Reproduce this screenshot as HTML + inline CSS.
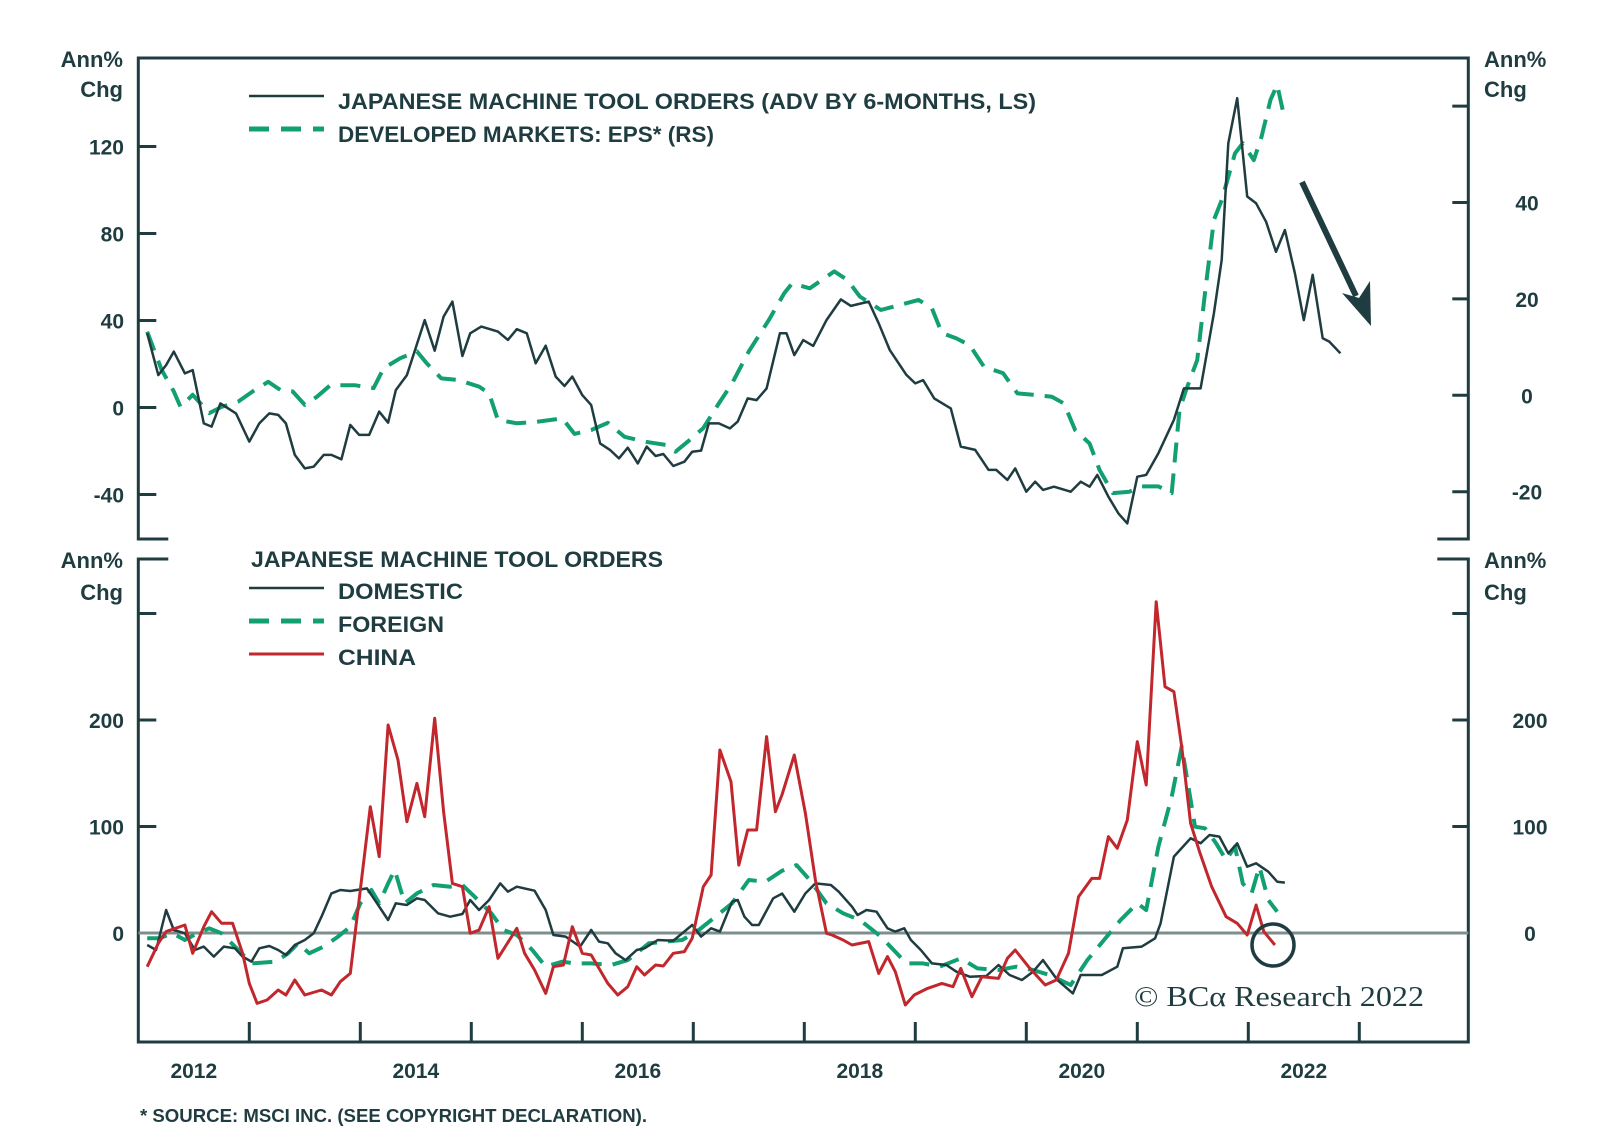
<!DOCTYPE html>
<html><head><meta charset="utf-8">
<style>
html,body{margin:0;padding:0;background:#fff;}
svg{display:block;}
text{font-family:"Liberation Sans",sans-serif;fill:#1f3c40;}
</style></head>
<body>
<svg id="chart" width="1600" height="1146" viewBox="0 0 1600 1146" xmlns="http://www.w3.org/2000/svg">
  <g id="frames"></g>
  <g id="marks"></g>
  <g id="labels"></g>
</svg>
<script>
// ---- DATA ----
const orderDates = [2012.08,2012.18,2012.25,2012.32,2012.42,2012.49,2012.59,2012.66,2012.74,2012.88,2013.00,2013.09,2013.18,2013.26,2013.33,2013.41,2013.50,2013.58,2013.67,2013.74,2013.83,2013.91,2013.99,2014.08,2014.17,2014.25,2014.32,2014.42,2014.58,2014.67,2014.75,2014.83,2014.92,2014.99,2015.09,2015.24,2015.33,2015.41,2015.50,2015.58,2015.67,2015.76,2015.84,2015.91,2016.00,2016.08,2016.16,2016.25,2016.33,2016.41,2016.50,2016.58,2016.66,2016.73,2016.82,2016.92,2016.99,2017.07,2017.14,2017.23,2017.33,2017.40,2017.49,2017.57,2017.66,2017.78,2017.84,2017.91,2017.99,2018.08,2018.20,2018.33,2018.42,2018.58,2018.67,2018.77,2018.92,2019.00,2019.07,2019.17,2019.32,2019.41,2019.54,2019.66,2019.73,2019.83,2019.90,2020.00,2020.08,2020.15,2020.25,2020.40,2020.49,2020.57,2020.64,2020.74,2020.83,2020.91,2021.00,2021.08,2021.19,2021.33,2021.42,2021.57,2021.69,2021.76,2021.82,2021.90,2021.99,2022.07,2022.16,2022.25,2022.33,2022.42,2022.50,2022.58,2022.67,2022.73,2022.83];
const orderValues = [34.1,14.9,19.5,25.7,15.7,17.2,-7.3,-8.8,1.9,-2.7,-15.7,-7.3,-2.7,-3.4,-7.3,-21.8,-28,-27.2,-21.8,-21.8,-23.8,-8,-12.6,-12.6,-1.9,-7,8,14.9,40.2,26.1,41.8,48.7,23.7,34.1,37.2,34.9,31.1,36,34.1,20.3,28.4,14.2,9.9,14.2,5.7,1.1,-16.5,-19.5,-23.4,-18.5,-25.7,-18,-22.3,-21.4,-26.9,-24.9,-20.3,-19.8,-7.3,-7.3,-9.6,-6.5,4.2,3.4,8.8,34.1,34.1,24.1,31,28.3,40.2,49.7,46.7,48.7,38.7,26.4,15,11.1,12.6,4.2,-0.4,-18,-19.5,-28.7,-28.7,-33.3,-28,-38.7,-34.1,-37.9,-36.4,-38.7,-34.1,-36.4,-31,-41,-48.7,-53.3,-31.8,-31,-21,-5.7,8.8,8.8,43.3,67.8,121.5,142.2,97,93.9,85.4,71.6,81.6,61.7,40.2,61,31.8,30.3,24.9];

const epsDates = [2012.08,2012.21,2012.32,2012.38,2012.49,2012.64,2012.75,2012.90,2013.05,2013.17,2013.28,2013.39,2013.50,2013.61,2013.73,2013.95,2014.12,2014.21,2014.36,2014.51,2014.60,2014.73,2014.88,2015.07,2015.16,2015.24,2015.41,2015.59,2015.82,2015.93,2016.08,2016.23,2016.38,2016.56,2016.75,2016.84,2016.95,2017.09,2017.23,2017.35,2017.50,2017.68,2017.82,2017.89,2018.05,2018.27,2018.39,2018.50,2018.69,2018.92,2019.03,2019.15,2019.24,2019.37,2019.49,2019.62,2019.79,2019.92,2020.06,2020.23,2020.34,2020.44,2020.57,2020.66,2020.78,2020.93,2021.04,2021.19,2021.31,2021.38,2021.44,2021.54,2021.61,2021.69,2021.76,2021.88,2021.95,2022.05,2022.12,2022.20,2022.26,2022.33];
const epsValues = [13.2,5.3,0.8,-2.4,0.1,-3.7,-2.4,-1.3,1.1,2.8,1.1,0.8,-2,-0.3,2.1,2.1,1.5,5.6,7.7,9.1,6.6,3.5,3.2,1.8,0.4,-5.1,-5.8,-5.5,-4.8,-8,-7.2,-5.7,-8.6,-9.6,-10.3,-11.7,-9.6,-6.8,-1.7,2.5,9.1,15.6,21.2,23.2,22.2,25.7,23.9,20.5,17.7,19.1,19.8,18,12.9,11.8,10.4,5.9,4.6,0.4,0.1,-0.3,-1.7,-7.2,-10,-15.5,-20.3,-20,-18.9,-18.9,-20.3,-3,1.1,7.3,21.2,36.4,40.5,50.2,52.3,48.8,53.7,61.3,64.4,57.1];

const domDates = [2012.08,2012.16,2012.25,2012.32,2012.42,2012.51,2012.59,2012.68,2012.77,2012.87,2012.94,2013.02,2013.09,2013.18,2013.26,2013.33,2013.41,2013.50,2013.58,2013.65,2013.74,2013.82,2013.91,2014.06,2014.15,2014.25,2014.32,2014.42,2014.51,2014.58,2014.70,2014.81,2014.92,2014.99,2015.07,2015.16,2015.26,2015.33,2015.41,2015.57,2015.67,2015.74,2015.85,2015.98,2016.08,2016.15,2016.23,2016.30,2016.39,2016.49,2016.56,2016.68,2016.82,2016.90,2016.99,2017.07,2017.16,2017.24,2017.35,2017.40,2017.46,2017.53,2017.59,2017.72,2017.80,2017.84,2017.91,2018.01,2018.10,2018.24,2018.31,2018.43,2018.48,2018.56,2018.65,2018.75,2018.82,2018.90,2018.96,2019.05,2019.15,2019.28,2019.37,2019.49,2019.64,2019.75,2019.85,2019.96,2020.06,2020.15,2020.28,2020.42,2020.49,2020.68,2020.82,2020.87,2021.04,2021.16,2021.21,2021.33,2021.48,2021.57,2021.65,2021.74,2021.82,2021.90,2021.99,2022.07,2022.18,2022.26,2022.33];
const domValues = [-11.3,-16,21.6,2.8,-0.3,-16,-12.8,-22.2,-12.8,-14.4,-22.2,-26.9,-14.4,-12.2,-16,-20.7,-11.3,-6.6,-0.3,15.3,37.2,40.4,39.4,41.9,27.9,12.2,27.9,26.3,32.6,31,18.5,15.3,17.8,31,21.6,31,46.6,38.8,43.5,39.7,21.6,-1.9,-3.4,-12.8,2.8,-8.1,-9.7,-19.1,-25.4,-16,-14.4,-6.6,-7.2,-0.3,7.5,-3.4,4.4,1.3,29.4,31,15.3,7.5,7.5,32.6,37,31,20,37.2,46.6,45.1,38.8,24.7,16.9,21.6,20,4.4,1.3,4.4,-6.6,-16,-28.5,-30,-36.3,-41,-40.4,-30,-39.4,-44.1,-36.3,-25.4,-44.1,-56.7,-39.4,-39.4,-31.6,-14.4,-12.8,-5,9.1,71.7,88.9,84.2,92,90.5,74.8,84.2,62.3,65.4,57.6,48.2,47.3];

const forDates = [2012.08,2012.19,2012.31,2012.42,2012.53,2012.64,2012.75,2012.87,2013.02,2013.24,2013.35,2013.44,2013.54,2013.67,2013.80,2013.91,2014.00,2014.10,2014.17,2014.25,2014.31,2014.40,2014.51,2014.66,2014.81,2014.92,2015.03,2015.18,2015.29,2015.41,2015.55,2015.67,2015.82,2015.93,2016.08,2016.26,2016.41,2016.60,2016.75,2016.90,2017.05,2017.20,2017.35,2017.50,2017.65,2017.80,2017.93,2018.05,2018.20,2018.35,2018.50,2018.69,2018.92,2019.07,2019.22,2019.41,2019.56,2019.75,2019.91,2020.06,2020.21,2020.40,2020.55,2020.70,2020.85,2021.00,2021.08,2021.19,2021.31,2021.40,2021.48,2021.52,2021.61,2021.71,2021.80,2021.88,2021.95,2022.03,2022.10,2022.18,2022.26];
const forValues = [-5,-5,-0.3,-6.6,-0.3,4.4,-0.3,-12.8,-28.5,-26.9,-19.1,-9.7,-19.1,-12.8,-3.4,5.9,27.9,40.4,27.9,46.6,59.2,27.9,37.2,45.1,43.5,45.1,34.1,18.5,2.8,-1.9,-16,-31.6,-26.9,-28.5,-28.5,-30,-25.4,-9.7,-8.1,-6.6,2.8,15.3,27.9,49.8,48.2,58.5,63.8,49.8,27.9,18.5,12.2,-3.4,-28.5,-28.5,-31.6,-23.8,-33.2,-34.7,-31.6,-34.7,-39.4,-48.8,-25.4,-6.6,12.2,27.9,21.6,81.1,128,175,124.9,99.8,98.3,84.2,68.5,81.1,46.6,37.2,62.3,31,20];

const chinaDates = [2012.08,2012.18,2012.25,2012.42,2012.49,2012.59,2012.66,2012.75,2012.85,2012.94,2013.00,2013.07,2013.16,2013.26,2013.33,2013.41,2013.50,2013.65,2013.74,2013.82,2013.91,2014.00,2014.09,2014.17,2014.25,2014.34,2014.42,2014.51,2014.58,2014.67,2014.75,2014.83,2014.92,2014.99,2015.07,2015.16,2015.24,2015.41,2015.48,2015.57,2015.67,2015.74,2015.83,2015.91,2016.00,2016.08,2016.23,2016.32,2016.41,2016.49,2016.56,2016.66,2016.73,2016.82,2016.92,2016.99,2017.09,2017.16,2017.24,2017.34,2017.41,2017.49,2017.57,2017.66,2017.74,2017.80,2017.91,2018.01,2018.10,2018.20,2018.25,2018.35,2018.43,2018.58,2018.67,2018.75,2018.82,2018.91,2018.99,2019.11,2019.24,2019.34,2019.41,2019.51,2019.60,2019.75,2019.83,2019.90,2020.02,2020.17,2020.27,2020.38,2020.47,2020.59,2020.66,2020.74,2020.82,2020.91,2021.00,2021.08,2021.17,2021.25,2021.33,2021.40,2021.48,2021.56,2021.67,2021.80,2021.90,2021.99,2022.07,2022.14,2022.24];
const chinaValues = [-31.6,-9.7,1.3,7.5,-19.1,5.9,20,9.1,9.1,-19.1,-47.3,-66,-62.9,-53.5,-58.2,-44.1,-58.2,-53.5,-58.2,-45.7,-37.9,40.4,118.6,71.7,195.3,162.4,104.5,140.5,109.2,201.6,113.9,46.6,43.5,-0.3,2.8,24.7,-23.8,4.4,-19.1,-34.7,-56.7,-31.6,-30,5.9,-19.1,-20.7,-47.3,-58.2,-50.4,-31.6,-39.4,-30,-31,-19.1,-17.5,-5,43.5,54.5,171.8,142.1,63.8,96.7,96.7,184.4,113.9,130,167.1,112.4,49.8,-0.3,-1.9,-6.6,-11.3,-8.1,-37.9,-22.2,-36.3,-67.6,-58.2,-52,-47.3,-50.4,-33.2,-59.8,-41,-42.6,-23.8,-16,-31.6,-48.8,-44.1,-19.1,34.1,51.3,51.3,90.5,79.5,106.1,179.7,139,311.1,231.3,226.6,175,103,76.4,43.5,15.3,9.1,-1.9,26.3,1.3,-11.3];

const yearLabels = ["2012","2014","2016","2018","2020","2022"];
const topLeftTicks = [120,80,40,0,-40];
const topRightTicks = [60,40,20,0,-20];
const topRightLabels = [40,20,0,-20];
const botLeftTicks = [300,200,100];
const botLabels = [200,100,0];

// ---- SCALES ----
const X0 = 138.3, YW = 111;
const x = t => X0 + (t - 2012) * YW;
const yTL = v => 407.5 - v * 2.175;
const yTR = v => 395.3 - v * 4.82;
const yB = v => 933 - v * 1.065;

const NS = "http://www.w3.org/2000/svg";
const frames = document.getElementById('frames');
const marks = document.getElementById('marks');
const labels = document.getElementById('labels');
function mk(tag, attrs, parent) {
  const e = document.createElementNS(NS, tag);
  for (const k in attrs) e.setAttribute(k, attrs[k]);
  parent.appendChild(e);
  return e;
}
const INK = "#1f3c40";
const L = 138.3, R = 1468.3, T1 = 58, B1 = 539, T2 = 559, B2 = 1042;

let p = mk('path', {d:`M${L+30},${B1} H${L} V${T1} H${R} V${B1} H${R-31}`, fill:'none', stroke:INK, 'stroke-width':3}, frames);


p = mk('path', {d:`M${L+30},${T2} H${L} V${B2} H${R} V${T2} H${R-31}`, fill:'none', stroke:INK, 'stroke-width':3}, frames);



topLeftTicks.forEach(v => {
  const e = mk('line', {x1:L, x2:L+18, y1:yTL(v), y2:yTL(v), stroke:INK, 'stroke-width':3}, frames);
  
  
  const t = mk('text', {x:124, y:yTL(v)+8, 'text-anchor':'end', 'font-size':21, 'font-weight':'bold'}, labels);
  t.textContent = v;
  
  
});
topRightTicks.forEach(v => {
  const e = mk('line', {x1:R-16, x2:R, y1:yTR(v), y2:yTR(v), stroke:INK, 'stroke-width':3}, frames);
  
  
});
topRightLabels.forEach(v => {
  const t = mk('text', {x:1527, y:yTR(v)+8, 'text-anchor':'middle', 'font-size':21, 'font-weight':'bold'}, labels);
  t.textContent = v;
  
  
});
botLeftTicks.forEach(v => {
  let e = mk('line', {x1:L, x2:L+18, y1:yB(v), y2:yB(v), stroke:INK, 'stroke-width':3}, frames);
  
  
  e = mk('line', {x1:R-16, x2:R, y1:yB(v), y2:yB(v), stroke:INK, 'stroke-width':3}, frames);
  
  
});
botLabels.forEach(v => {
  let t = mk('text', {x:124, y:yB(v)+8, 'text-anchor':'end', 'font-size':21, 'font-weight':'bold'}, labels);
  t.textContent = v;
  
  
  t = mk('text', {x:1530, y:yB(v)+8, 'text-anchor':'middle', 'font-size':21, 'font-weight':'bold'}, labels);
  t.textContent = v;
  
  
});
p = mk('line', {x1:L, x2:R, y1:yB(0), y2:yB(0), stroke:'#7e8e8e', 'stroke-width':3}, frames);


for (let yr = 2013; yr <= 2023; yr++) {
  const e = mk('line', {x1:x(yr), x2:x(yr), y1:B2-20, y2:B2, stroke:INK, 'stroke-width':3}, frames);
  
  
}
yearLabels.forEach(s => {
  const t = mk('text', {x:x(+s + 0.5), y:1078, 'text-anchor':'middle', 'font-size':21, 'font-weight':'bold'}, labels);
  t.textContent = s;
  
  
});

function line(dates, vals, ys, color, dash, name, w) {
  const d = dates.map((t,i) => (i ? 'L' : 'M') + x(t).toFixed(1) + ',' + ys(vals[i]).toFixed(1)).join(' ');
  const e = mk('path', {d, fill:'none', stroke:color, 'stroke-width':w, 'stroke-linejoin':'round'}, marks);
  if (dash) e.setAttribute('stroke-dasharray', dash);
  
  
}
const GREEN = "#12a072", RED = "#c1272d";
line(epsDates, epsValues, yTR, GREEN, '20,11', 'eps-line', 4);
line(orderDates, orderValues, yTL, INK, null, 'machine-orders-line', 2.5);
line(forDates, forValues, yB, GREEN, '20,11', 'foreign-line', 4);
line(domDates, domValues, yB, INK, null, 'domestic-line', 2.5);
line(chinaDates, chinaValues, yB, RED, null, 'china-line', 3);

p = mk('line', {x1:1302, y1:182, x2:1356, y2:296, stroke:INK, 'stroke-width':6}, marks);


p = mk('polygon', {points:'1371,326 1342,293 1359,298 1370,281', fill:INK}, marks);


p = mk('circle', {cx:1273, cy:945, r:21, fill:'none', stroke:INK, 'stroke-width':3.5}, marks);



function txt(s, xx, yy, size, len, name, extra) {
  const t = mk('text', Object.assign({x:xx, y:yy, 'font-size':size, 'font-weight':'bold'}, extra||{}), labels);
  t.textContent = s;
  if (len) { t.setAttribute('textLength', len); t.setAttribute('lengthAdjust', 'spacingAndGlyphs'); }
  
  
  return t;
}
function legLine(yy, color, dash, name, w) {
  const e = mk('line', {x1:249, x2:324, y1:yy, y2:yy, stroke:color, 'stroke-width':w}, labels);
  if (dash) e.setAttribute('stroke-dasharray', dash);
  
  
}
legLine(96, INK, null, 'legend-orders-swatch', 2.5);
legLine(129, GREEN, '20,12', 'legend-eps-swatch', 5);
txt('JAPANESE MACHINE TOOL ORDERS (ADV BY 6-MONTHS, LS)', 338, 109, 22, 698, 'legend-orders-label');
txt('DEVELOPED MARKETS: EPS* (RS)', 338, 142, 22, 376, 'legend-eps-label');
txt('JAPANESE MACHINE TOOL ORDERS', 251, 567, 22, 412, 'bottom-panel-title');
legLine(588, INK, null, 'legend-domestic-swatch', 2.5);
legLine(621, GREEN, '20,12', 'legend-foreign-swatch', 5);
legLine(654, RED, null, 'legend-china-swatch', 3);
txt('DOMESTIC', 338, 599, 22, 125, 'legend-domestic-label');
txt('FOREIGN', 338, 632, 22, 106, 'legend-foreign-label');
txt('CHINA', 338, 665, 22, 78, 'legend-china-label');

txt('Ann%', 123, 67, 22, null, 'top-left-axis-unit', {'text-anchor':'end'});
txt('Chg', 123, 97, 22, null, 'top-left-axis-unit-2', {'text-anchor':'end'});
txt('Ann%', 1484, 67, 22, null, 'top-right-axis-unit');
txt('Chg', 1484, 97, 22, null, 'top-right-axis-unit-2');
txt('Ann%', 123, 568, 22, null, 'bottom-left-axis-unit', {'text-anchor':'end'});
txt('Chg', 123, 600, 22, null, 'bottom-left-axis-unit-2', {'text-anchor':'end'});
txt('Ann%', 1484, 568, 22, null, 'bottom-right-axis-unit');
txt('Chg', 1484, 600, 22, null, 'bottom-right-axis-unit-2');

txt('* SOURCE: MSCI INC. (SEE COPYRIGHT DECLARATION).', 140, 1122, 18, 507, 'source-footnote');

const bca = mk('text', {x:1134, y:1006, 'font-size':29, style:'font-family:"Liberation Serif",serif;font-weight:normal', fill:INK}, labels);


bca.setAttribute('textLength', 290);
bca.setAttribute('lengthAdjust', 'spacingAndGlyphs');
bca.textContent = '© BCα Research 2022';
</script>
</body></html>
